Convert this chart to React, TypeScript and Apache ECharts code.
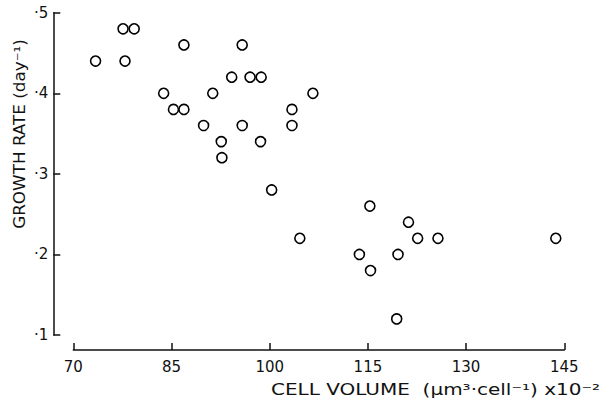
import React, { useEffect, useRef } from "react";
import * as echarts from "echarts";

// Cell volume (µm³·cell⁻¹ ×10⁻²) and growth rate (day⁻¹)
const cellVolume = [
  73.4, 77.6, 79.3, 77.9, 86.9, 95.8, 94.2, 97.0, 98.7, 106.6, 83.8, 91.3,
  85.3, 86.9, 103.4, 89.9, 95.8, 103.4, 92.6, 98.6, 92.7, 100.3, 104.6,
  115.3, 121.2, 122.6, 125.7, 113.7, 119.6, 115.4, 119.4, 143.7,
];
const growthRate = [
  0.44, 0.48, 0.48, 0.44, 0.46, 0.46, 0.42, 0.42, 0.42, 0.40, 0.40, 0.40,
  0.38, 0.38, 0.38, 0.36, 0.36, 0.36, 0.34, 0.34, 0.32, 0.28, 0.22,
  0.26, 0.24, 0.22, 0.22, 0.20, 0.20, 0.18, 0.12, 0.22,
];
const xTicks = [70, 85, 100, 115, 130, 145];
const yTicks = [0.1, 0.2, 0.3, 0.4, 0.5];
const yTickLabels = ["·1", "·2", "·3", "·4", "·5"];
const xTitle = "CELL VOLUME  (µm³·cell⁻¹) x10⁻²";
const yTitle = "GROWTH RATE (day⁻¹)";

const FONT = "DejaVu Sans";
const INK = "#111";

export default function App() {
  const ref = useRef<HTMLDivElement>(null);
  useEffect(() => {
    if (!ref.current) return;
    const chart = echarts.init(ref.current, undefined, { renderer: "svg" });
    const data = cellVolume.map((x, i) => [x, growthRate[i]]);
    chart.setOption({
      animation: false,
      backgroundColor: "#fff",
      grid: { left: 73.3, right: 40.7, top: 12.7, bottom: 69 },
      xAxis: {
        type: "value",
        min: xTicks[0],
        max: xTicks[xTicks.length - 1],
        offset: 15,
        splitLine: { show: false },
        axisLine: { show: true, lineStyle: { color: INK, width: 1.5 } },
        axisTick: {
          show: true,
          inside: true,
          length: 7,
          customValues: xTicks,
          lineStyle: { color: INK, width: 1.5 },
        },
        axisLabel: {
          customValues: xTicks,
          margin: 9,
          color: INK,
          fontFamily: FONT,
          fontSize: 15,
        },
      },
      yAxis: {
        type: "value",
        min: yTicks[0],
        max: yTicks[yTicks.length - 1],
        offset: 20,
        splitLine: { show: false },
        axisLine: { show: true, lineStyle: { color: INK, width: 1.5 } },
        axisTick: {
          show: true,
          inside: true,
          length: 7,
          customValues: yTicks,
          lineStyle: { color: INK, width: 1.5 },
        },
        axisLabel: {
          customValues: yTicks,
          margin: 5,
          color: INK,
          fontFamily: FONT,
          fontSize: 15,
          formatter: (v: number) => {
            const i = yTicks.findIndex((t) => Math.abs(t - v) < 1e-6);
            return i >= 0 ? yTickLabels[i] : "";
          },
        },
      },
      graphic: [
        {
          type: "text",
          x: 600,
          y: 389,
          scaleX: 1.25,
          style: {
            text: xTitle,
            fill: INK,
            fontFamily: FONT,
            fontSize: 16,
            align: "right",
            verticalAlign: "middle",
          },
        },
        {
          type: "text",
          x: 20,
          y: 134,
          rotation: Math.PI / 2,
          scaleX: 1.05,
          style: {
            text: yTitle,
            fill: INK,
            fontFamily: FONT,
            fontSize: 16,
            align: "center",
            verticalAlign: "middle",
          },
        },
      ],
      series: [
        {
          type: "scatter",
          data,
          symbol: "circle",
          symbolSize: 10,
          itemStyle: { color: "#fff", borderColor: "#000", borderWidth: 1.6, opacity: 1 },
        },
      ],
    });
    return () => chart.dispose();
  }, []);
  return (
    <div
      ref={ref}
      style={{ position: "fixed", left: 0, top: 0, width: 605, height: 404, background: "#fff" }}
    />
  );
}
